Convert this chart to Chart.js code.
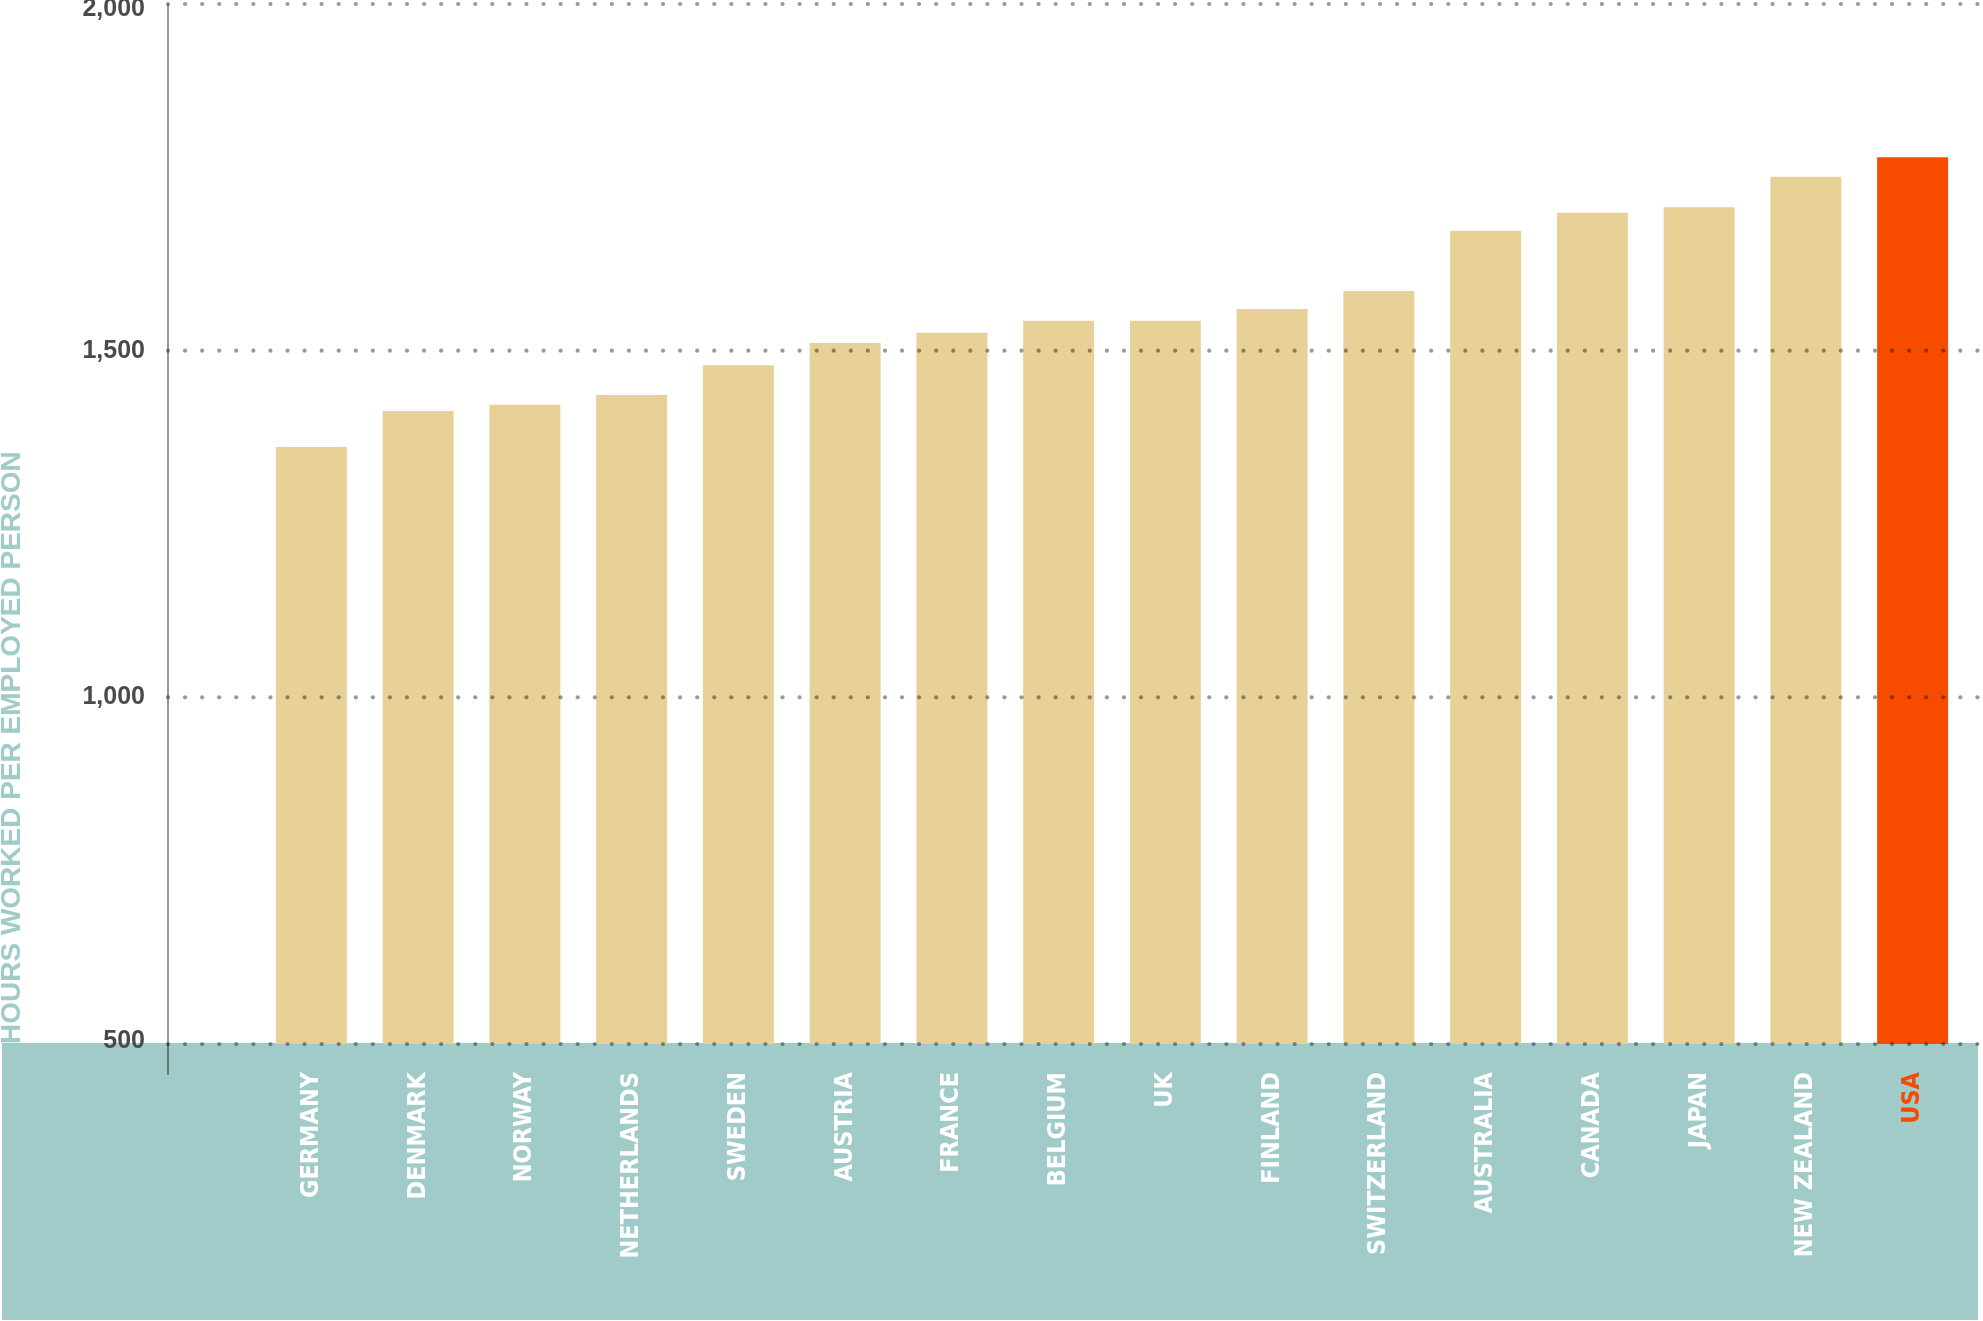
<!DOCTYPE html>
<html>
<head>
<meta charset="utf-8">
<script src="https://cdn.jsdelivr.net/npm/chart.js@4"></script>
<style>
  html, body { margin: 0; padding: 0; background: #ffffff; }
  #wrap { width: 1983px; height: 1321px; position: relative; }
  canvas { display: block; }
</style>
</head>
<body>
<div id="wrap"><canvas id="c" width="1983" height="1321"></canvas></div>
<script>
// ---- data ----
const categories = ['GERMANY', 'DENMARK', 'NORWAY', 'NETHERLANDS', 'SWEDEN', 'AUSTRIA', 'FRANCE', 'BELGIUM', 'UK', 'FINLAND', 'SWITZERLAND', 'AUSTRALIA', 'CANADA', 'JAPAN', 'NEW ZEALAND', 'USA'];
const hoursWorked = [1361, 1413, 1422, 1436, 1479, 1511, 1526, 1543, 1543, 1560, 1586, 1673, 1699, 1707, 1751, 1779];
const yTickValues = [500, 1000, 1500, 2000];
const yTickLabels = ['500', '1,000', '1,500', '2,000'];
const yAxisTitle = 'HOURS WORKED PER EMPLOYED PERSON';
const highlightCategory = 'USA';

// ---- styles ----
const BAR_COLOR = '#e8d197';
const HIGHLIGHT_COLOR = '#f74c00';
const BAND_COLOR = '#a0cbc9';
const DOT_COLOR = 'rgba(0,0,0,0.4)';
const NARROW = "'Liberation Sans Narrow', 'DejaVu Sans Condensed', 'Arial Narrow', sans-serif";
const SANS = "'Liberation Sans', Arial, sans-serif";

const decor = {
  id: 'decor',
  beforeDraw(chart) {
    const { ctx } = chart;
    const y = chart.scales.y;
    const top = y.getPixelForValue(yTickValues[0]) - 1;
    ctx.save();
    ctx.fillStyle = BAND_COLOR;
    ctx.fillRect(2, top, chart.width - 7, chart.height - 1 - top);
    ctx.restore();
  },
  afterDatasetsDraw(chart) {
    const { ctx } = chart;
    const y = chart.scales.y;
    const axisX = 168;
    const rightX = 1979;
    const step = 17.07;
    ctx.save();
    ctx.strokeStyle = DOT_COLOR;
    ctx.lineWidth = 2;
    ctx.beginPath();
    ctx.moveTo(axisX, y.getPixelForValue(yTickValues[yTickValues.length - 1]));
    ctx.lineTo(axisX, y.getPixelForValue(yTickValues[0]) + 31);
    ctx.stroke();
    ctx.fillStyle = DOT_COLOR;
    yTickValues.forEach(v => {
      const py = y.getPixelForValue(v);
      for (let x = axisX; x <= rightX; x += step) {
        ctx.beginPath();
        ctx.arc(x, py, 2.1, 0, Math.PI * 2);
        ctx.fill();
      }
    });
    ctx.restore();
  }
};

new Chart(document.getElementById('c'), {
  type: 'bar',
  data: {
    labels: categories,
    datasets: [{
      data: hoursWorked,
      backgroundColor: ctx => categories[ctx.dataIndex] === highlightCategory ? HIGHLIGHT_COLOR : BAR_COLOR,
      borderWidth: 0,
      barPercentage: 1,
      categoryPercentage: 0.665
    }]
  },
  options: {
    responsive: false,
    devicePixelRatio: 1,
    animation: false,
    layout: { padding: { top: 4, right: 17, left: 0, bottom: 0 } },
    plugins: { legend: { display: false }, tooltip: { enabled: false }, title: { display: false } },
    scales: {
      x: {
        offset: true,
        grid: { display: false, drawTicks: false },
        border: { display: false },
        afterFit: s => { s.height = 277; s.paddingLeft = 0; s.paddingRight = 0; },
        ticks: {
          autoSkip: false,
          minRotation: 90,
          maxRotation: 90,
          padding: 28,
          color: ctx => categories[ctx.index] === highlightCategory ? HIGHLIGHT_COLOR : '#ffffff',
          font: { family: NARROW, weight: 'bold', size: 25 }
        }
      },
      y: {
        min: yTickValues[0],
        max: yTickValues[yTickValues.length - 1],
        afterBuildTicks: s => { s.ticks = yTickValues.map(v => ({ value: v })); },
        afterFit: s => { s.width = 258; s.paddingTop = 0; s.paddingBottom = 0; },
        grid: { display: false, drawTicks: false },
        border: { display: false },
        ticks: {
          padding: 113,
          color: '#4a4a4a',
          font: ctx => {
            const v = ctx.tick ? ctx.tick.value : null;
            let lh = 1.2;
            if (v === yTickValues[yTickValues.length - 1]) lh = '10px';
            else if (v === yTickValues[0]) lh = '6px';
            return { family: SANS, weight: 'bold', size: 25, lineHeight: lh };
          },
          callback: (value) => {
            const i = yTickValues.indexOf(value);
            const lbl = i >= 0 ? yTickLabels[i] : '';
            if (i === yTickValues.length - 1) return ['', lbl];
            if (i === 0) return [lbl, ''];
            return lbl;
          }
        },
        title: {
          display: true,
          text: yAxisTitle,
          align: 'start',
          color: BAND_COLOR,
          padding: 0,
          font: { family: SANS, weight: 'bold', size: 28, lineHeight: 0.86 }
        }
      }
    }
  },
  plugins: [decor]
});
</script>
</body>
</html>
